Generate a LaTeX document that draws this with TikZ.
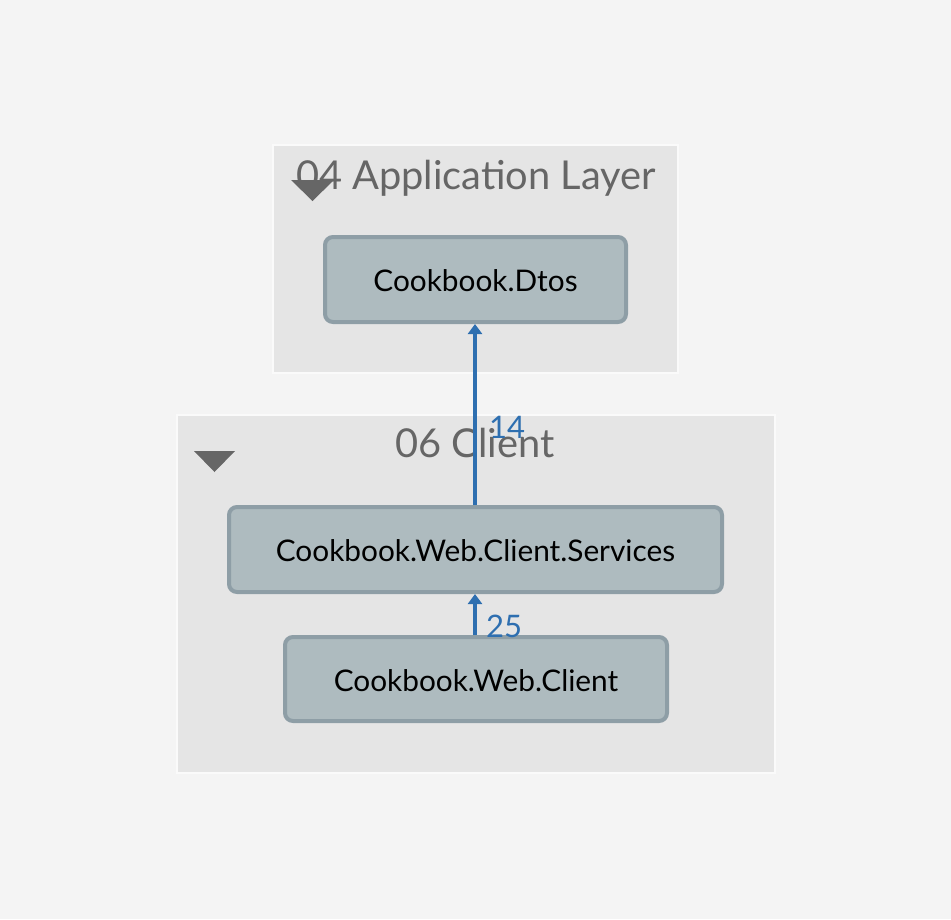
\documentclass[tikz,border=0pt]{standalone}
\usepackage{fontspec}
\setmainfont{Lato}
\usetikzlibrary{arrows.meta}
\definecolor{bgc}{HTML}{F4F4F4}
\definecolor{grpc}{HTML}{E5E5E5}
\definecolor{grpb}{HTML}{FAFAFA}
\definecolor{nodec}{HTML}{AEBBBF}
\definecolor{nodeb}{HTML}{8E9EA6}
\definecolor{titlec}{HTML}{666666}
\definecolor{edgec}{HTML}{2E6FB0}
\tikzset{
  grp/.style={draw=grpb, fill=grpc, line width=1.5pt},
  box/.style={draw=nodeb, fill=nodec, line width=4pt, rounded corners=8pt},
  boxtext/.style={font=\fontsize{29.8}{35}\selectfont, text=black, anchor=center},
  grptitle/.style={font=\fontsize{39.8}{46}\selectfont, text=titlec, anchor=base},
  tri/.style={fill=titlec, draw=none},
  dep/.style={draw=edgec, line width=3.8pt, -{Triangle[width=14pt,length=10pt]}},
  deplabel/.style={font=\fontsize{31}{36}\selectfont, text=edgec, anchor=base west, inner sep=0pt}
}
\begin{document}
\begin{tikzpicture}[x=1pt,y=-1pt]
\fill[bgc] (0,0) rectangle (951,919);
\useasboundingbox (0,0) rectangle (951,919);
% groups
\path[grp] (273,145) rectangle (678,373);
\path[grp] (177,415) rectangle (775,773);
\node[grptitle] (t1) at (476,189) {04 Application Layer};
\node[grptitle] (t2) at (475,457) {06 Client};
\fill[tri] (291,180) -- (334,180) -- (312.5,201) -- cycle;
\fill[tri] (194,451) -- (235,451) -- (214.5,472) -- cycle;
% nodes
\path[box] (325,237) rectangle (626,322);
\node[boxtext] (dtos) at (475.5,281) {Cookbook.Dtos};
\coordinate (dtosb) at (475,324);
\path[box] (229,507) rectangle (722,592);
\node[boxtext] (svc) at (475.5,551) {Cookbook.Web.Client.Services};
\coordinate (svct) at (475,505);
\coordinate (svcb) at (475,594);
\path[box] (285,637) rectangle (667,721);
\node[boxtext] (cli) at (476,681) {Cookbook.Web.Client};
\coordinate (clit) at (475,635);
% edges
\draw[dep] (svct) -- (dtosb);
\draw[dep] (clit) -- (svcb);
\node[deplabel] (l14) at (489,438) {14};
\node[deplabel] (l25) at (486,637) {25};
\end{tikzpicture}
\end{document}
